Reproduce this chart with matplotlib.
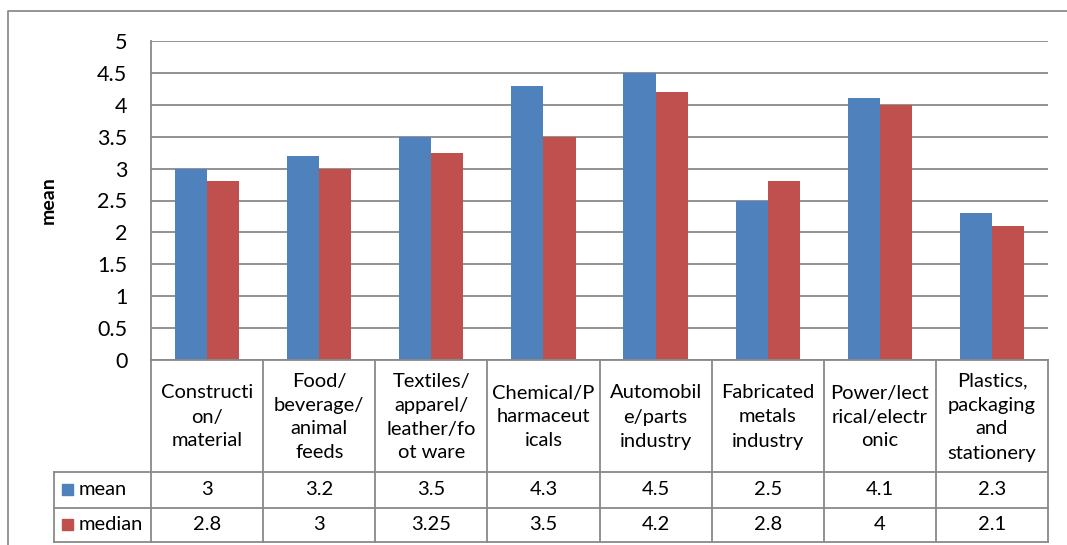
import matplotlib
matplotlib.use("Agg")
import matplotlib.pyplot as plt
from matplotlib.lines import Line2D
from matplotlib.patches import Rectangle

plt.rcParams['font.family'] = ['Lato', 'DejaVu Sans']

# data
categories = ["Constructi\non/\nmaterial", "Food/\nbeverage/\nanimal\nfeeds",
              "Textiles/\napparel/\nleather/fo\not ware", "Chemical/P\nharmaceut\nicals",
              "Automobil\ne/parts\nindustry", "Fabricated\nmetals\nindustry",
              "Power/lect\nrical/electr\nonic", "Plastics,\npackaging\nand\nstationery"]
mean = [3, 3.2, 3.5, 4.3, 4.5, 2.5, 4.1, 2.3]
median = [2.8, 3, 3.25, 3.5, 4.2, 2.8, 4, 2.1]
series = ["mean", "median"]
colors = ["#4F81BD", "#C0504D"]
yticks = [0, 0.5, 1, 1.5, 2, 2.5, 3, 3.5, 4, 4.5, 5]
ytick_labels = ["0", "0.5", "1", "1.5", "2", "2.5", "3", "3.5", "4", "4.5", "5"]

W, H = 1067, 545
fig = plt.figure(figsize=(W / 100, H / 100), dpi=100)
grid_c = "#898989"
fs = 14.5

def fx(px):
    return px / W

def fy(py):
    return 1 - py / H

# outer chart border (left and top visible)
fig.add_artist(Line2D([fx(8), fx(8), fx(1067)], [fy(545), fy(11), fy(11)],
                      color="#8c8c8c", lw=1.3, transform=fig.transFigure))

L, R, T, B = 151, 1048, 41, 360
ax = fig.add_axes([fx(L), fy(B), fx(R - L), (B - T) / H])
n = len(categories)
x = list(range(n))
bw = 0.286
ax.bar([i - bw / 2 for i in x], mean, width=bw, color=colors[0], zorder=3)
ax.bar([i + bw / 2 for i in x], median, width=bw, color=colors[1], zorder=3)
ax.set_xlim(-0.5, n - 0.5)
ax.set_ylim(0, 5)
ax.set_yticks(yticks)
ax.set_yticklabels(ytick_labels, fontsize=15.5)
ax.set_xticks([])
ax.tick_params(axis="y", length=0, pad=17)
ax.grid(axis="y", color=grid_c, lw=1.3, zorder=0)
for s in ["top", "right", "bottom"]:
    ax.spines[s].set_visible(False)
ax.spines["left"].set_color(grid_c)
ax.spines["left"].set_linewidth(1.3)
ax.set_ylabel("mean", fontsize=14, fontweight="bold")
ax.yaxis.set_label_coords((57 - L) / (R - L), 0.5)

# data table below the plot
TB = 542
tax = fig.add_axes([fx(L), fy(TB), fx(R - L), (TB - B) / H])
tax.set_xlim(-0.5, n - 0.5)
tax.set_ylim(TB - B, 0)
tax.axis("off")
colw = (R - L) / n
left_x = -0.5 - (L - 54) / colw
r1, r2, r3 = 112, 147.7, 182
kw = dict(color=grid_c, lw=1.3, clip_on=False)
for i in range(n + 1):
    tax.plot([i - 0.5, i - 0.5], [0, r3], **kw)
tax.plot([-0.5, n - 0.5], [0, 0], **kw)
for yy in (r1, r2, r3):
    tax.plot([left_x, n - 0.5], [yy, yy], **kw)
tax.plot([left_x, left_x], [r1, r3], **kw)

for i, c in enumerate(categories):
    tax.text(i, r1 / 2 + 1, c, ha="center", va="center", fontsize=fs, linespacing=1.5)
for row, (vals, name, col) in enumerate(zip([mean, median], series, colors)):
    yc = (r1 + r2) / 2 if row == 0 else (r2 + r3) / 2
    for i, v in enumerate(vals):
        tax.text(i, yc, f"{v:g}", ha="center", va="center", fontsize=fs)
    sq = 11 / colw
    tax.add_patch(Rectangle((left_x + 8 / colw, yc - 5.5), sq, 11, color=col, clip_on=False))
    tax.text(left_x + 25 / colw, yc, name, ha="left", va="center", fontsize=fs)

fig.savefig("out.png", dpi=100)
